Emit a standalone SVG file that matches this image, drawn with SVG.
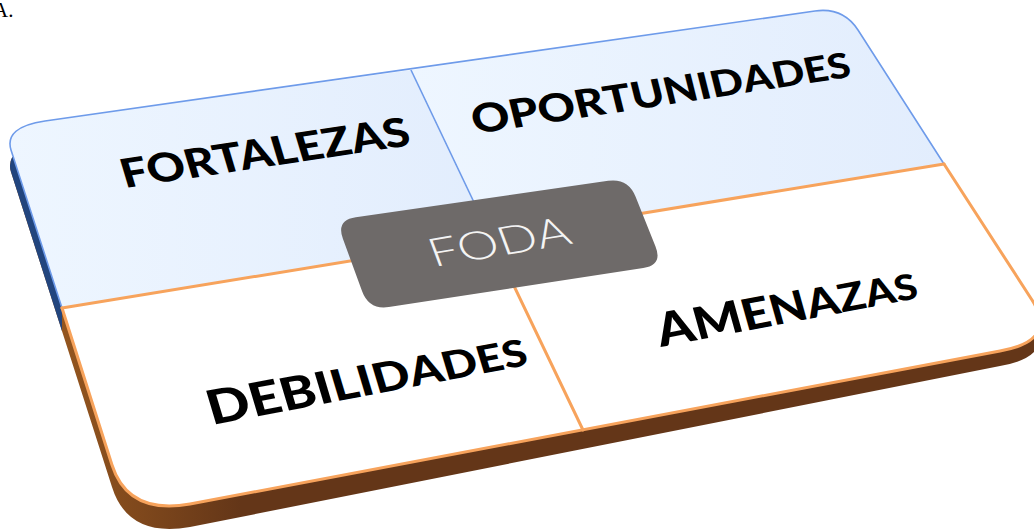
<svg xmlns="http://www.w3.org/2000/svg" width="1034" height="531" viewBox="0 0 1034 531">
  <style>
    .lbl { font-family: Lato, "Liberation Sans", sans-serif; font-weight: 900; fill: #000; }
    .center { font-family: Lato, "Liberation Sans", sans-serif; font-weight: 300; fill: #F4F4F4; }
    .blueline { fill: none; stroke: #6E9BEA; stroke-width: 1.6; stroke-linejoin: round; }
    .orangeline { fill: none; stroke: #F7A35C; stroke-width: 3; stroke-linejoin: round; stroke-linecap: round; }
  </style>
  <defs>
    <linearGradient id="upperFill" x1="0" y1="0" x2="1" y2="0">
      <stop offset="0" stop-color="#EEF6FF"/>
      <stop offset="1" stop-color="#E2EDFD"/>
    </linearGradient>
    <linearGradient id="sideBrown" gradientUnits="userSpaceOnUse" x1="60" y1="0" x2="240" y2="0">
      <stop offset="0" stop-color="#94561F"/>
      <stop offset="1" stop-color="#643618"/>
    </linearGradient>
    <clipPath id="blueSideClip">
      <polygon points="0,0 300,0 300,270 62,308 62,345 0,345"/>
    </clipPath>
  </defs>

  <text x="-7" y="17" font-family="Liberation Serif, serif" font-size="21" fill="#000">A.</text>

  <g id="board">
    <path id="side-brown" d="M 45,143 L 815,26 Q 843,22 858,45 L 1032,315 Q 1058,356 1000,366 L 190,527 Q 128,538 112,487 L 11,172 Q 4,149 45,143 Z" fill="url(#sideBrown)"/>
    <path id="side-blue" d="M 45,143 L 815,26 Q 843,22 858,45 L 1032,315 Q 1058,356 1000,366 L 190,527 Q 128,538 112,487 L 11,172 Q 4,149 45,143 Z" fill="#22457E" clip-path="url(#blueSideClip)"/>
  </g>

  <g id="fortalezas">
    <path d="M 62,308 L 11,150 Q 4,127 45,121 L 411,70 L 491,238 Z" fill="url(#upperFill)"/>
    <text class="lbl" font-size="39" textLength="288" lengthAdjust="spacingAndGlyphs" transform="matrix(1,-0.15,0.3,1,125,188)">FORTALEZAS</text>
  </g>

  <g id="oportunidades">
    <path d="M 411,70 L 815,11 Q 843,7 858,30 L 944,164 L 491,238 Z" fill="url(#upperFill)"/>
    <text class="lbl" textLength="378" lengthAdjust="spacingAndGlyphs" transform="matrix(1,-0.152,0.25,1,475,134)"><tspan font-size="39">O</tspan><tspan font-size="38.6">P</tspan><tspan font-size="38.2">O</tspan><tspan font-size="37.8">R</tspan><tspan font-size="37.4">T</tspan><tspan font-size="37">U</tspan><tspan font-size="36.6">N</tspan><tspan font-size="36.2">I</tspan><tspan font-size="35.8">D</tspan><tspan font-size="35.4">A</tspan><tspan font-size="35">D</tspan><tspan font-size="34.6">E</tspan><tspan font-size="34.2">S</tspan></text>
  </g>

  <g id="debilidades">
    <path d="M 62,308 L 491,238 L 583,430 L 190,504 Q 128,515 112,465 Z" fill="#FFFFFF"/>
    <text class="lbl" textLength="318" lengthAdjust="spacingAndGlyphs" transform="matrix(1,-0.19,0.3,1,212,425)"><tspan font-size="46">D</tspan><tspan font-size="45">E</tspan><tspan font-size="44">B</tspan><tspan font-size="43">I</tspan><tspan font-size="42">L</tspan><tspan font-size="41">I</tspan><tspan font-size="40">D</tspan><tspan font-size="39">A</tspan><tspan font-size="38">D</tspan><tspan font-size="37">E</tspan><tspan font-size="36">S</tspan></text>
  </g>

  <g id="amenazas">
    <path d="M 491,238 L 944,164 L 1032,300 Q 1058,341 1000,351 L 583,430 Z" fill="#FFFFFF"/>
    <text class="lbl" textLength="259" lengthAdjust="spacingAndGlyphs" transform="matrix(1,-0.19,0.28,1,661,347)"><tspan font-size="45">A</tspan><tspan font-size="43.5">M</tspan><tspan font-size="42">E</tspan><tspan font-size="40.5">N</tspan><tspan font-size="39">A</tspan><tspan font-size="37.5">Z</tspan><tspan font-size="36">A</tspan><tspan font-size="34.5">S</tspan></text>
  </g>

  <g id="connectors">
    <path class="blueline" d="M 62,308 L 11,150 Q 4,127 45,121 L 815,11 Q 843,7 858,30 L 944,164"/>
    <line class="blueline" x1="411" y1="70" x2="491" y2="238"/>
    <path class="orangeline" d="M 62,308 L 112,465 Q 128,515 190,504 L 1000,351 Q 1058,341 1032,300 L 944,164"/>
    <line class="orangeline" x1="62" y1="308" x2="944" y2="164"/>
    <line class="orangeline" x1="491" y1="238" x2="583" y2="430"/>
  </g>

  <g id="foda">
    <path d="M 355.8,217.2 L 608.2,180.8 Q 628,178 635.5,196.5 L 655.5,246.5 Q 663,265 643.2,268 L 388.8,307 Q 369,310 362.1,291.2 L 342.9,238.8 Q 336,220 355.8,217.2 Z" fill="#6E6A69"/>
    <text class="center" font-size="38" textLength="140" lengthAdjust="spacingAndGlyphs" transform="matrix(1,-0.168,0.37,1,434,267)">FODA</text>
  </g>
</svg>
